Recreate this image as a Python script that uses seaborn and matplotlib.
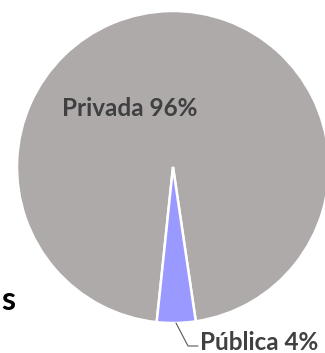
import matplotlib
matplotlib.use("Agg")
import matplotlib.pyplot as plt
import seaborn as sns

categories = ["Privada", "Pública"]
values = [96, 4]
colors = ["#AEAAAA", "#9999FF"]
labels = ["Privada 96%", "Pública 4%"]

sns.set_style("white")
plt.rcParams['font.family'] = ['Lato', 'DejaVu Sans']

W, H = 325, 353
fig = plt.figure(figsize=(W / 100, H / 100), dpi=100)
ax = fig.add_axes([0, 0, 1, 1])

cx, cy, r = 173, H - 167, 156
ax.pie(values, colors=colors, startangle=278.4, counterclock=True,
       center=(cx, cy), radius=r, frame=True,
       wedgeprops=dict(edgecolor="white", linewidth=1.8))

ax.set_xlim(0, W)
ax.set_ylim(0, H)
ax.set_aspect("equal")
ax.axis("off")

ax.text(130, H - 109, labels[0], ha="center", va="center",
        fontsize=17.5, fontweight="bold", color="#404040")
ax.plot([176, 188, 198], [H - 323, H - 346, H - 346], color="#595959", lw=0.8)
ax.text(200, H - 342, labels[1], ha="left", va="center",
        fontsize=17.5, fontweight="bold", color="#404040")
ax.text(1, H - 300, "s", ha="left", va="center",
        fontsize=23, fontweight="bold", color="black")

fig.savefig("out.png", dpi=100)
